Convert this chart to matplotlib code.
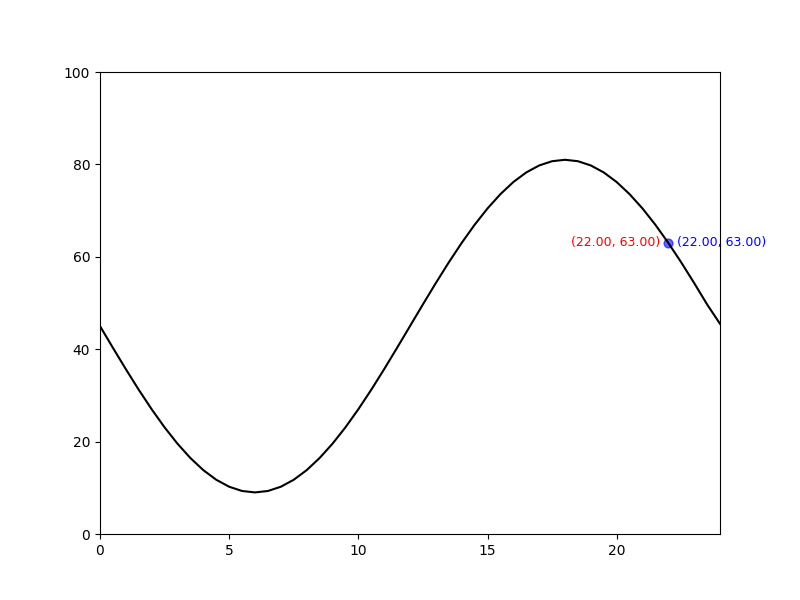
import matplotlib
matplotlib.use("Agg")
import matplotlib.pyplot as plt

hours = [0, 0.5, 1, 1.5, 2, 2.5, 3, 3.5, 4, 4.5, 5, 5.5, 6,
         6.5, 7, 7.5, 8, 8.5, 9, 9.5, 10, 10.5, 11, 11.5, 12,
         12.5, 13, 13.5, 14, 14.5, 15, 15.5, 16, 16.5, 17, 17.5, 18,
         18.5, 19, 19.5, 20, 20.5, 21, 21.5, 22, 22.5, 23, 23.5, 24]
values = [45.00, 40.30, 35.68, 31.22, 27.00, 23.08, 19.54, 16.44, 13.82, 11.74, 10.23, 9.31, 9.00,
          9.31, 10.23, 11.74, 13.82, 16.44, 19.54, 23.08, 27.00, 31.22, 35.68, 40.30, 45.00,
          49.70, 54.32, 58.78, 63.00, 66.92, 70.46, 73.56, 76.18, 78.26, 79.77, 80.69, 81.00,
          80.69, 79.77, 78.26, 76.18, 73.56, 70.46, 66.92, 63.00, 58.78, 54.32, 49.70, 45.50]

point_x = 22.0
point_y = 63.0

fig, ax = plt.subplots(figsize=(8, 6), dpi=100)
ax.scatter([point_x], [point_y], color="blue", alpha=0.6, s=40, zorder=1)
ax.plot(hours, values, color="black", linewidth=1.5, zorder=2)

label = f"({point_x:.2f}, {point_y:.2f})"
ax.annotate(label, (point_x, point_y), xytext=(-6, 0), textcoords="offset points",
            ha="right", va="center", color="red", fontsize=9, annotation_clip=False)
ax.annotate(label, (point_x, point_y), xytext=(6, 0), textcoords="offset points",
            ha="left", va="center", color="blue", fontsize=9, annotation_clip=False)

ax.set_xlim(0, 24)
ax.set_ylim(0, 100)
fig.savefig("out.png", dpi=100)
